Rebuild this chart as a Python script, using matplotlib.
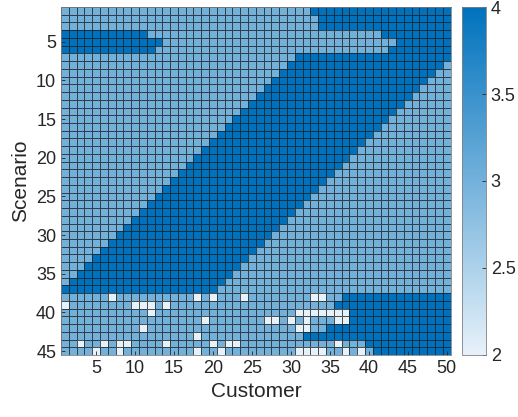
import numpy as np
import matplotlib
matplotlib.use("Agg")
import matplotlib.pyplot as plt
from matplotlib.colors import LinearSegmentedColormap

plt.rcParams['font.family'] = ['Liberation Sans', 'DejaVu Sans']

n_scenarios = 45
n_customers = 50

# Runs of level-4 cells: scenario row, first and last customer (inclusive)
dark_row = [1, 2, 3, 4, 4, 5, 5, 6, 6,
            7, 8, 9, 10, 11, 12, 13, 14, 15, 16, 17, 18, 19, 20, 21, 22,
            23, 24, 25, 26, 27, 28, 29, 30, 31, 32, 33, 34, 35, 36, 37,
            38, 39, 40, 41, 42, 43, 44, 45]
dark_first = [33, 34, 34, 1, 42, 1, 44, 1, 43,
              31, 30, 29, 28, 27, 26, 25, 24, 23, 22, 21, 20, 19, 18, 17, 16,
              15, 14, 13, 12, 11, 10, 9, 8, 7, 6, 5, 4, 3, 2, 1,
              37, 36, 38, 38, 35, 32, 40, 41]
dark_last = [50, 50, 50, 11, 50, 13, 50, 12, 50,
             50, 49, 48, 47, 46, 45, 44, 43, 42, 41, 40, 39, 38, 37, 36, 35,
             34, 33, 32, 31, 30, 29, 28, 27, 26, 25, 24, 23, 22, 21, 20,
             50, 50, 50, 50, 50, 50, 50, 50]

# Level-2 cells: scenario row and customer
low_row = [38] * 6 + [39] * 5 + [40] * 8 + [41] * 7 + [42] * 3 + [43] * 1 + [44] * 9 + [45] * 10
low_col = [7, 18, 20, 24, 33, 34,
           1, 10, 11, 12, 14,
           12, 31, 32, 33, 34, 35, 36, 37,
           19, 27, 28, 30, 32, 36, 37,
           11, 31, 32,
           18,
           3, 6, 8, 9, 14, 20, 22, 23, 36,
           5, 8, 18, 21, 31, 32, 33, 34, 37, 39]

base_level = 3
high_level = 4
low_level = 2

grid = np.full((n_scenarios, n_customers), float(base_level))
for r, a, b in zip(dark_row, dark_first, dark_last):
    grid[r - 1, a - 1:b] = high_level
for r, c in zip(low_row, low_col):
    grid[r - 1, c - 1] = low_level

cmap = LinearSegmentedColormap.from_list(
    "blues", [(0.905, 0.945, 0.980), (0.0, 0.447, 0.741)], N=256)

text_color = (0.15, 0.15, 0.15)

fig = plt.figure(figsize=(5.18, 4.17), dpi=100)
ax = fig.add_axes([0.1178, 0.1487, 0.7522, 0.8345])
cax = fig.add_axes([0.892, 0.1487, 0.046, 0.8345])

x_edges = np.arange(0.5, n_customers + 1.0, 1.0)
y_edges = np.arange(0.5, n_scenarios + 1.0, 1.0)
mesh = ax.pcolormesh(x_edges, y_edges, grid, cmap=cmap, vmin=2, vmax=4,
                     edgecolors=(0.1, 0.1, 0.1, 0.75), linewidth=0.5)
ax.set_xlim(0.5, n_customers + 0.5)
ax.set_ylim(n_scenarios + 0.5, 0.5)

ax.set_xticks(np.arange(5, 51, 5))
ax.set_yticks(np.arange(5, 46, 5))
ax.tick_params(direction='in', length=3, labelsize=13, colors=text_color,
               width=0.6)
for s in ax.spines.values():
    s.set_color((0.5, 0.5, 0.5))
    s.set_linewidth(0.6)

ax.set_xlabel("Customer", fontsize=15, color=text_color, labelpad=4)
ax.set_ylabel("Scenario", fontsize=15, color=text_color, labelpad=4)

cb = fig.colorbar(mesh, cax=cax)
cb.set_ticks([2, 2.5, 3, 3.5, 4])
cb.set_ticklabels(["2", "2.5", "3", "3.5", "4"])
cb.ax.tick_params(direction='in', length=3, labelsize=13, colors=text_color,
                  width=0.6)
cb.outline.set_edgecolor((0.5, 0.5, 0.5))
cb.outline.set_linewidth(0.6)

fig.savefig("out.png", dpi=100)
